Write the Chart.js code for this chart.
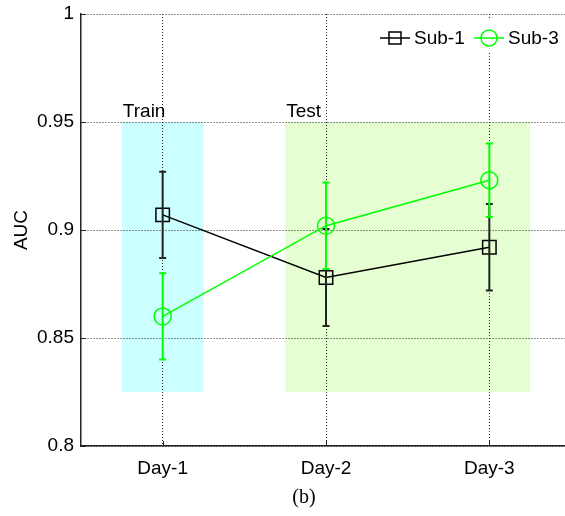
<!DOCTYPE html>
<html>
<head>
<meta charset="utf-8">
<script src="https://cdn.jsdelivr.net/npm/chart.js@4"></script>
<style>
  html, body { margin: 0; padding: 0; background: #fff; overflow: hidden; }
  #wrap { width: 582px; height: 516px; }
</style>
</head>
<body>
<div id="wrap"><canvas id="c" width="582" height="516"></canvas></div>
<script>
// Days of the session and their positions on the x axis
const days = ['Day-1', 'Day-2', 'Day-3'];
const dayPos = [1, 2, 3];

// Mean AUC and standard deviation per subject
const sub1Auc = [0.907, 0.878, 0.892];
const sub1Err = [0.020, 0.0225, 0.020];
const sub3Auc = [0.860, 0.902, 0.923];
const sub3Err = [0.020, 0.020, 0.017];

// Y axis ticks
const yTicks = [0.8, 0.85, 0.9, 0.95, 1];
const yTickLabels = ['0.8', '0.85', '0.9', '0.95', '1'];

// Train / test phases (x span in day units, AUC span)
const phaseNames = ['Train', 'Test'];
const phaseFrom = [0.75, 1.75];
const phaseTo = [1.25, 3.25];
const phaseLow = [0.825, 0.825];
const phaseHigh = [0.95, 0.95];
const phaseFill = ['#ccffff', '#e5ffd2'];

const FONT = 'Liberation Sans, Arial, Helvetica, sans-serif';
const BLACK = '#000000';
const GREEN = '#00ff00';

// Shaded phase blocks with their captions, drawn below the grid
const phasePlugin = {
  id: 'phases',
  beforeDraw(chart) {
    const { ctx, scales: { x, y } } = chart;
    ctx.save();
    phaseNames.forEach((name, i) => {
      const x0 = x.getPixelForValue(phaseFrom[i]);
      const x1 = x.getPixelForValue(phaseTo[i]);
      const y0 = y.getPixelForValue(phaseHigh[i]);
      const y1 = y.getPixelForValue(phaseLow[i]);
      ctx.fillStyle = phaseFill[i];
      ctx.fillRect(x0, y0, x1 - x0, y1 - y0);
    });
    ctx.restore();
  },
  afterDatasetsDraw(chart) {
    const { ctx, scales: { x, y } } = chart;
    ctx.save();
    ctx.fillStyle = '#000';
    ctx.font = '19px ' + FONT;
    ctx.textAlign = 'left';
    ctx.textBaseline = 'alphabetic';
    phaseNames.forEach((name, i) => {
      ctx.fillText(name, x.getPixelForValue(phaseFrom[i]) + 1, y.getPixelForValue(phaseHigh[i]) - 5);
    });
    ctx.restore();
  }
};

// Vertical error bars with small caps, drawn right after each series
const errorBarPlugin = {
  id: 'errorBars',
  afterDatasetDraw(chart, args) {
    const ds = chart.data.datasets[args.index];
    if (!ds.errors) return;
    const { ctx, scales: { x, y } } = chart;
    ctx.save();
    ctx.strokeStyle = ds.barColor;
    ctx.lineWidth = 2;
    ds.data.forEach((p, i) => {
      const px = x.getPixelForValue(p.x);
      const top = y.getPixelForValue(p.y + ds.errors[i]);
      const bot = y.getPixelForValue(p.y - ds.errors[i]);
      ctx.beginPath();
      ctx.moveTo(px, top);
      ctx.lineTo(px, bot);
      ctx.moveTo(px - 3.5, top);
      ctx.lineTo(px + 3.5, top);
      ctx.moveTo(px - 3.5, bot);
      ctx.lineTo(px + 3.5, bot);
      ctx.stroke();
    });
    ctx.restore();
  }
};

// Inward tick marks, legend box and figure caption
const decorPlugin = {
  id: 'decor',
  afterDraw(chart) {
    const { ctx, chartArea: a, scales: { x, y } } = chart;
    ctx.save();
    ctx.strokeStyle = '#222';
    ctx.lineWidth = 1;
    ctx.beginPath();
    yTicks.forEach(v => {
      const py = Math.round(y.getPixelForValue(v)) + 0.5;
      ctx.moveTo(a.left, py);
      ctx.lineTo(a.left + 5, py);
    });
    dayPos.forEach(v => {
      const px = Math.round(x.getPixelForValue(v)) + 0.5;
      ctx.moveTo(px, a.bottom);
      ctx.lineTo(px, a.bottom - 5);
    });
    ctx.stroke();

    // legend
    const ly = 38;
    ctx.fillStyle = '#fff';
    ctx.fillRect(374, 20, 220, 32);
    const items = chart.data.datasets.slice().sort((p, q) => p.legendOrder - q.legendOrder);
    let lx = 380;
    ctx.font = '19px ' + FONT;
    ctx.textBaseline = 'middle';
    ctx.textAlign = 'left';
    items.forEach(ds => {
      ctx.strokeStyle = ds.borderColor;
      ctx.lineWidth = 1.5;
      ctx.beginPath();
      ctx.moveTo(lx, ly);
      ctx.lineTo(lx + 30, ly);
      ctx.stroke();
      ctx.fillStyle = 'rgba(0,0,0,0)';
      Chart.helpers.drawPoint(ctx, {
        pointStyle: ds.pointStyle,
        radius: ds.pointStyle === 'rect' ? 8.5 : 8,
        borderWidth: 1.5,
        rotation: 0
      }, lx + 15, ly);
      ctx.fillStyle = '#000';
      ctx.fillText(ds.label, lx + 34, ly + 1);
      lx += 94;
    });

    // caption
    ctx.fillStyle = '#000';
    ctx.font = '20px Liberation Serif, DejaVu Serif, serif';
    ctx.textAlign = 'center';
    ctx.textBaseline = 'middle';
    ctx.fillText('(b)', 304, 498);
    ctx.restore();
  }
};

const toPoints = (vals) => vals.map((v, i) => ({ x: dayPos[i], y: v }));

new Chart(document.getElementById('c'), {
  type: 'line',
  data: {
    datasets: [
      {
        label: 'Sub-1',
        data: toPoints(sub1Auc),
        errors: sub1Err,
        barColor: '#222',
        borderColor: BLACK,
        borderWidth: 1.5,
        pointStyle: 'rect',
        pointRadius: 9.5,
        pointBorderWidth: 1.5,
        pointBorderColor: BLACK,
        pointBackgroundColor: 'rgba(0,0,0,0)',
        order: 2,
        legendOrder: 1
      },
      {
        label: 'Sub-3',
        data: toPoints(sub3Auc),
        errors: sub3Err,
        barColor: GREEN,
        borderColor: GREEN,
        borderWidth: 1.5,
        pointStyle: 'circle',
        pointRadius: 8.5,
        pointBorderWidth: 1.5,
        pointBorderColor: GREEN,
        pointBackgroundColor: 'rgba(0,0,0,0)',
        order: 1,
        legendOrder: 2
      }
    ]
  },
  options: {
    responsive: false,
    animation: false,
    devicePixelRatio: 1,
    layout: { padding: { top: 14, right: 4, left: 0, bottom: 0 } },
    plugins: { legend: { display: false }, tooltip: { enabled: false } },
    scales: {
      x: {
        type: 'linear',
        min: 0.5,
        max: 3.5,
        afterBuildTicks: (s) => { s.ticks = dayPos.map(v => ({ value: v })); },
        afterFit: (s) => { s.height = 70; },
        ticks: {
          callback: (v) => days[dayPos.indexOf(v)],
          color: '#000',
          font: { family: FONT, size: 19 },
          padding: 11,
          maxRotation: 0
        },
        grid: { color: '#222', lineWidth: 1, drawTicks: false },
        border: { display: true, color: '#222', width: 1.5, dash: [1, 2] }
      },
      y: {
        type: 'linear',
        min: 0.8,
        max: 1,
        afterBuildTicks: (s) => { s.ticks = yTicks.map(v => ({ value: v })); },
        afterFit: (s) => { s.width = 81; s.paddingTop = 0; s.paddingBottom = 0; },
        ticks: {
          callback: (v) => yTickLabels[yTicks.indexOf(v)],
          color: '#000',
          font: { family: FONT, size: 19 },
          padding: 7
        },
        title: {
          display: true,
          text: 'AUC',
          color: '#000',
          font: { family: FONT, size: 19 },
          padding: { top: 10, bottom: 0 }
        },
        grid: { color: '#222', lineWidth: 1, drawTicks: false },
        border: { display: true, color: '#222', width: 1.5, dash: [1, 2] }
      }
    }
  },
  plugins: [phasePlugin, errorBarPlugin, decorPlugin]
});
</script>
</body>
</html>
